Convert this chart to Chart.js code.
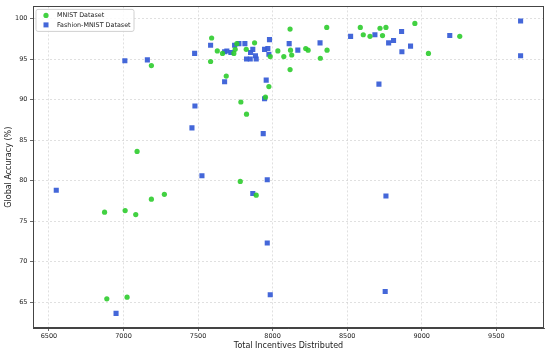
<!DOCTYPE html>
<html>
<head>
<meta charset="utf-8">
<script src="https://cdn.jsdelivr.net/npm/chart.js@4/dist/chart.umd.min.js"></script>
<style>
  html, body { margin: 0; padding: 0; background: #fff; }
  #wrap { width: 550px; height: 352px; }
</style>
</head>
<body>
<div id="wrap"><canvas id="myChart"></canvas></div>
<script>
// values
var mnistX = [6873,6888,7011,7024,7082,7187,7274,7091,7187,7584,7591,7629,7664,7689,7740,7749,7760,7787,7823,7825,7879,7952,7975,7984,7783,7890,8035,8075,8117,8120,8128,8117,8222,8238,8320,8363,8365,8588,8608,8653,8720,8737,8760,8954,9045,9255];
var mnistY = [76.1,65.4,76.3,65.6,75.8,77.7,78.3,83.6,94.2,94.7,97.6,96.0,95.7,92.9,95.7,96.2,96.9,89.7,96.2,88.2,97.0,90.3,91.6,95.3,79.9,78.2,96.0,95.3,98.7,96.1,95.5,93.7,96.3,96.1,95.1,98.9,96.1,98.9,98.0,97.8,98.8,97.9,98.9,99.4,95.7,97.8];

var fashionX = [6549,6950,7009,7160,7477,7479,7459,7526,7584,7678,7678,7693,7720,7745,7774,7814,7825,7850,7852,7867,7885,7890,7946,7968,7979,7975,7957,7946,7937,7867,7964,7964,7984,8111,8169,8318,8523,8686,8778,8811,8865,8867,8925,8713,9188,9663,9663,8760,8755];
var fashionY = [78.8,63.6,94.8,94.9,95.7,89.2,86.5,80.6,96.7,92.2,95.9,96.0,95.8,96.7,96.9,96.9,95.0,95.0,95.8,96.2,95.4,95.0,96.2,96.3,97.4,95.6,92.4,90.1,85.8,78.4,80.1,72.3,65.9,96.9,96.1,97.0,97.8,98.0,97.0,97.3,98.4,95.9,96.6,91.9,97.9,99.7,95.4,78.1,66.3];

var xTicks = [6500,7000,7500,8000,8500,9000,9500];
var yTicks = [65,70,75,80,85,90,95,100];

var seriesNames = ['MNIST Dataset','Fashion-MNIST Dataset'];
var green = 'rgba(46,204,46,0.9)';
var blue = 'rgba(58,95,215,0.95)';

function toPoints(xs, ys){
	var out = [];
	for (var i = 0; i < xs.length; i++) out.push({x: xs[i], y: ys[i]});
	return out;
}

// frame on all four sides + legend box in the upper left
var framePlugin = {
	id: 'frame',
	afterDraw: function(chart){
		var a = chart.chartArea, ctx = chart.ctx;
		ctx.save();
		ctx.strokeStyle = '#444';
		ctx.lineWidth = 1;
		ctx.strokeRect(Math.round(a.left)+0.5, Math.round(a.top)+0.5, Math.round(a.right-a.left)-1, Math.round(a.bottom-a.top)-1);

		// legend
		var bx = a.left + 3, by = a.top + 3, bw = 98, bh = 22, r = 2;
		ctx.beginPath();
		ctx.moveTo(bx+r, by);
		ctx.arcTo(bx+bw, by, bx+bw, by+bh, r);
		ctx.arcTo(bx+bw, by+bh, bx, by+bh, r);
		ctx.arcTo(bx, by+bh, bx, by, r);
		ctx.arcTo(bx, by, bx+bw, by, r);
		ctx.closePath();
		ctx.fillStyle = 'rgba(255,255,255,0.85)';
		ctx.fill();
		ctx.strokeStyle = '#d0d0d0';
		ctx.stroke();

		ctx.fillStyle = green;
		ctx.beginPath();
		ctx.arc(bx+10, by+6, 2.6, 0, Math.PI*2);
		ctx.fill();
		ctx.fillStyle = blue;
		ctx.fillRect(bx+10-2.5, by+15.5-2.5, 5, 5);

		ctx.fillStyle = '#222';
		ctx.font = '6.4px "DejaVu Sans"';
		ctx.textBaseline = 'middle';
		ctx.fillText(seriesNames[0], bx+21, by+6);
		ctx.fillText(seriesNames[1], bx+21, by+15.5);
		ctx.restore();
	}
};

function plainLabel(v){ return String(v); }

var ctx = document.getElementById('myChart');
var chart = new Chart(ctx, {
	type: 'scatter',
	data: {
		datasets: [
			{
				label: seriesNames[0],
				data: toPoints(mnistX, mnistY),
				pointStyle: 'circle',
				pointRadius: 2.6,
				pointHoverRadius: 2.6,
				backgroundColor: green,
				borderWidth: 0
			},
			{
				label: seriesNames[1],
				data: toPoints(fashionX, fashionY),
				pointStyle: 'rect',
				pointRadius: 3.6,
				pointHoverRadius: 3.6,
				backgroundColor: blue,
				borderWidth: 0
			}
		]
	},
	options: {
		responsive: true,
		maintainAspectRatio: false,
		animation: false,
		layout: { padding: { top: 6, right: 6, left: 0, bottom: 0 } },
		plugins: {
			legend: { display: false },
			tooltip: { enabled: false }
		},
		scales: {
			x: {
				type: 'linear',
				min: 6393,
				max: 9820,
				afterBuildTicks: function(axis){ axis.ticks = xTicks.map(function(v){ return {value: v}; }); },
				afterFit: function(axis){ axis.height = 24; },
				ticks: { color: '#222', font: { family: 'DejaVu Sans', size: 6.5 }, padding: 1, maxRotation: 0, callback: plainLabel },
				grid: { color: 'rgba(190,190,190,0.6)', tickColor: '#444', tickLength: 3, lineWidth: 0.8 },
				border: { color: '#444', dash: [2,2] },
				title: { display: true, text: 'Total Incentives Distributed', color: '#222', font: { family: 'DejaVu Sans', size: 8 }, padding: { top: 1, bottom: 1 } }
			},
			y: {
				type: 'linear',
				min: 61.8,
				max: 101.5,
				afterBuildTicks: function(axis){ axis.ticks = yTicks.map(function(v){ return {value: v}; }); },
				afterFit: function(axis){ axis.width = 33; },
				ticks: { color: '#222', font: { family: 'DejaVu Sans', size: 6.5 }, padding: 2.5, callback: plainLabel },
				grid: { color: 'rgba(190,190,190,0.6)', tickColor: '#444', tickLength: 3, lineWidth: 0.8 },
				border: { color: '#444', dash: [2,2] },
				title: { display: true, text: 'Global Accuracy (%)', color: '#222', font: { family: 'DejaVu Sans', size: 8 }, padding: { top: 4, bottom: 0 } }
			}
		}
	},
	plugins: [framePlugin]
});
</script>
</body>
</html>
